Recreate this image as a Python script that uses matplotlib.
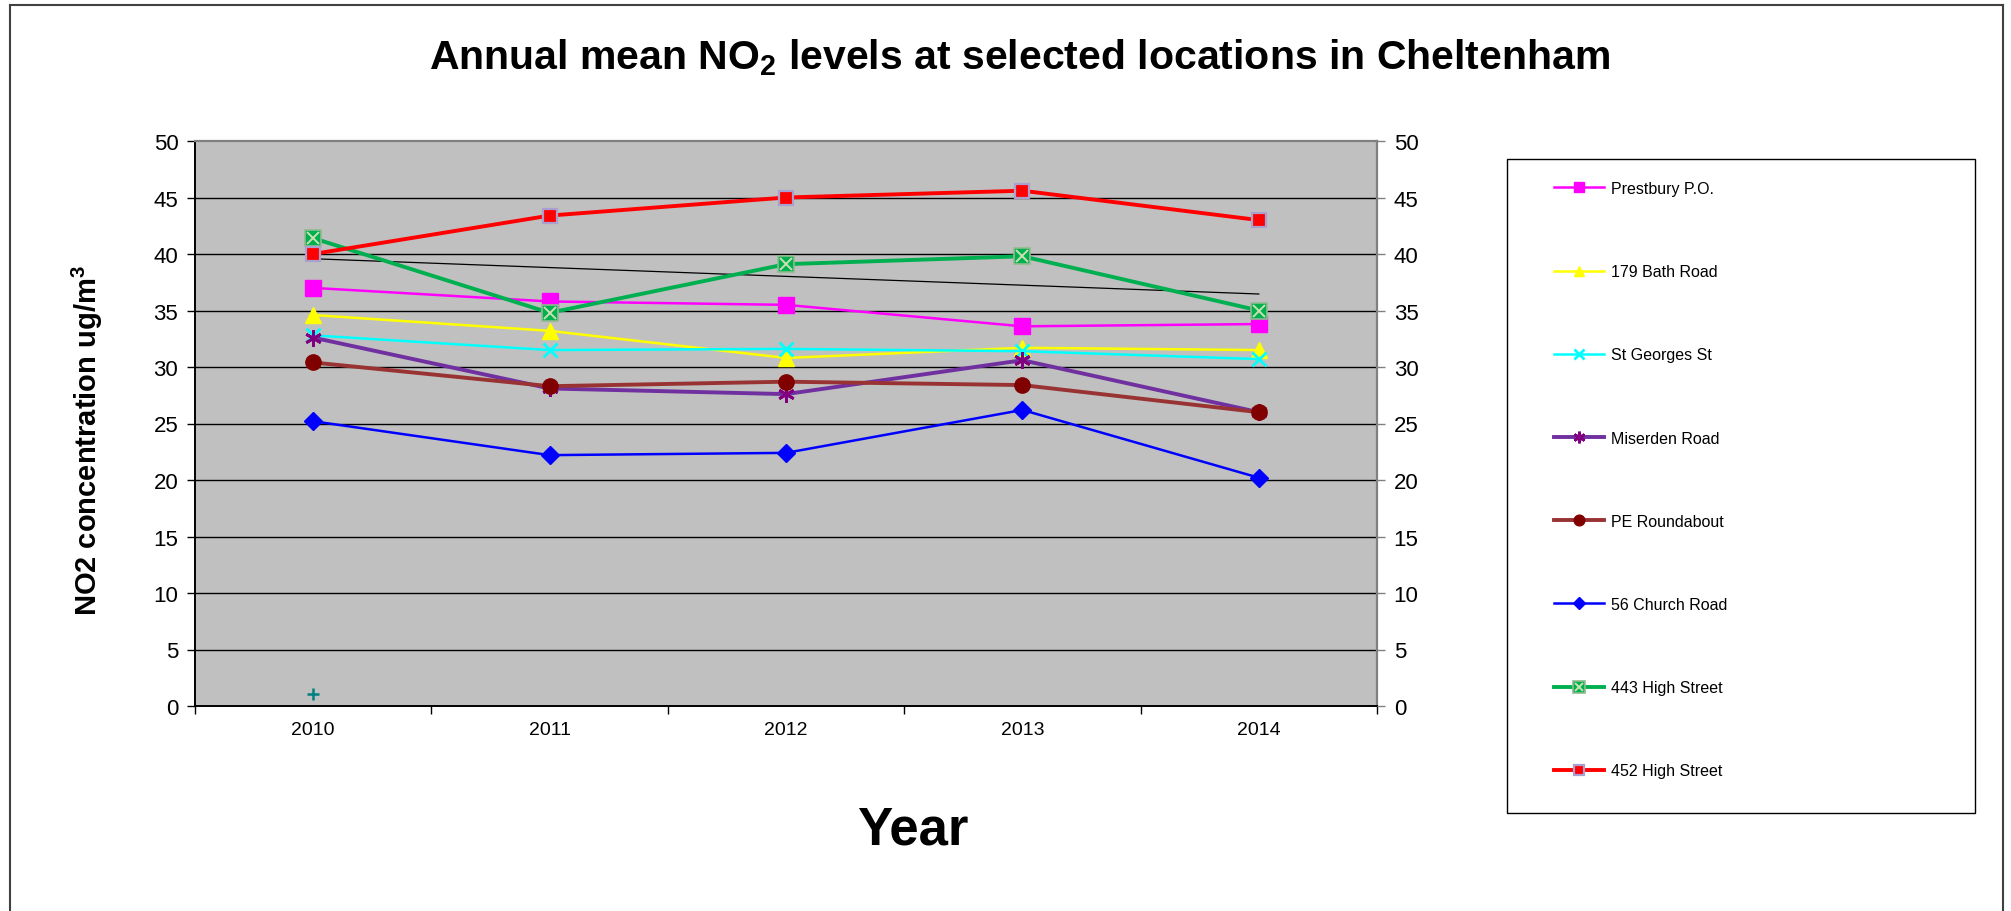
import numpy as np
import matplotlib
matplotlib.use('Agg')
import matplotlib.pyplot as plt
from matplotlib.lines import Line2D
from matplotlib.legend_handler import HandlerTuple
from matplotlib.patches import Rectangle

plt.rcParams['font.family'] = ['Liberation Sans', 'DejaVu Sans']
plt.rcParams['mathtext.default'] = 'regular'

# ---------------- data ----------------
years = ['2010', '2011', '2012', '2013', '2014']
prestbury = [37.0, 35.8, 35.5, 33.6, 33.8]
bath_road = [34.6, 33.2, 30.8, 31.7, 31.5]
st_georges = [32.8, 31.5, 31.6, 31.4, 30.7]
miserden = [32.6, 28.1, 27.6, 30.6, 26.0]
pe_roundabout = [30.4, 28.3, 28.7, 28.4, 26.0]
church_road = [25.2, 22.2, 22.4, 26.2, 20.2]
high_st_443 = [41.4, 34.8, 39.1, 39.8, 35.0]
high_st_452 = [40.0, 43.4, 45.0, 45.6, 43.0]
stray_years = ['2010']
stray_values = [1.1]
y_ticks = [0, 5, 10, 15, 20, 25, 30, 35, 40, 45, 50]

W, H = 2011, 912
fig = plt.figure(figsize=(W / 100, H / 100), dpi=100)
fig.patch.set_facecolor('white')

L, R, T, B = 195, 1377, 142, 707
ax = fig.add_axes([L / W, 1 - B / H, (R - L) / W, (B - T) / H])
ax.set_facecolor('#C0C0C0')
x = np.arange(len(years))

for yv in y_ticks[1:-1]:
    ax.axhline(yv, color='black', lw=1.0, zorder=1)

def plot_series(vals, label, color, lw, marker, ms, mfc, mec, mew=1.0, z=3):
    ln, = ax.plot(x, vals, color=color, lw=lw, marker=marker, ms=ms,
                  mfc=mfc, mec=mec, mew=mew, zorder=z, label=label)
    return ln

h1 = plot_series(prestbury, 'Prestbury P.O.', '#FF00FF', 1.8, 's', 11, '#FF00FF', '#FF00FF')
h2 = plot_series(bath_road, '179 Bath Road', '#FFFF00', 1.8, '^', 11, '#FFFF00', '#FFFF00')
h3 = plot_series(st_georges, 'St Georges St', '#00FFFF', 1.8, 'x', 10, '#00FFFF', '#00FFFF', 2.0)
h4 = plot_series(miserden, 'Miserden Road', '#7030A0', 2.8, (6, 2, 0), 12, '#800080', '#800080', 2.0)
h5 = plot_series(pe_roundabout, 'PE Roundabout', '#993333', 2.8, 'o', 11, '#800000', '#800000')
h6 = plot_series(church_road, '56 Church Road', '#0000FF', 1.8, 'D', 9, '#0000FF', '#0000FF')
h7a = plot_series(high_st_443, '443 High Street', '#00B050', 2.8, 's', 12, '#00B050', '#8FBC8F', 1.2, z=4)
h7b, = ax.plot(x, high_st_443, ls='none', marker='x', ms=9, mec='#C8E0B0', mew=1.4, zorder=4.1)
h8 = plot_series(high_st_452, '452 High Street', '#FF0000', 2.8, 's', 10, '#FF0000', '#A9A0D0', 1.6, z=5)

# linear trend of 443 High Street
coef = np.polyfit(x, high_st_443, 1)
ax.plot(x, np.polyval(coef, x), color='black', lw=0.9, zorder=3.5)

# stray single point
ax.plot([years.index(s) for s in stray_years], stray_values, ls='none', marker='+',
        ms=9, mew=1.8, color='#008080', zorder=3)

ax.set_xlim(-0.5, len(years) - 0.5)
ax.set_ylim(0, 50)
ax.set_xticks(x)
ax.set_xticklabels(years, fontsize=14)
ax.set_xticks(np.arange(-0.5, len(years)), minor=True)
ax.tick_params(axis='x', which='major', length=0, pad=11)
ax.tick_params(axis='x', which='minor', length=6, width=1.0, direction='out', color='black')
ax.set_yticks(y_ticks)
ax.tick_params(axis='y', labelsize=16, length=6, width=1.0, direction='out', pad=6)

ax.spines['left'].set_color('black')
ax.spines['bottom'].set_color('black')
ax.spines['left'].set_linewidth(1.4)
ax.spines['bottom'].set_linewidth(1.4)
ax.spines['top'].set_color('#808080')
ax.spines['right'].set_color('#808080')
ax.spines['top'].set_linewidth(1.6)
ax.spines['right'].set_linewidth(1.6)

ax2 = ax.twinx()
ax2.set_ylim(0, 50)
ax2.set_yticks(y_ticks)
ax2.tick_params(axis='y', labelsize=16, length=6, width=1.0, direction='out', pad=6, color='#808080')
for s in ax2.spines.values():
    s.set_visible(False)

# texts
fig.text(1020 / W, 1 - 58 / H, 'Annual mean NO$_2$ levels at selected locations in Cheltenham',
         ha='center', va='center', fontsize=29.5, fontweight='bold')
fig.text(87 / W, 1 - 440 / H, 'NO2 concentration ug/m$^3$', rotation=90,
         ha='center', va='center', fontsize=21, fontweight='bold')
fig.text(913 / W, 1 - 831 / H, 'Year', ha='center', va='center', fontsize=38, fontweight='bold')

# legend box
fig.patches.append(Rectangle((1507 / W, 1 - 814 / H), (1975 - 1507) / W, (814 - 160) / H,
                             transform=fig.transFigure, facecolor='white', edgecolor='black',
                             lw=1.0, zorder=1))
leg_handles = [h1, h2, h3, h4, h5, h6, (h7a, h7b), h8]
leg_labels = ['Prestbury P.O.', '179 Bath Road', 'St Georges St', 'Miserden Road',
              'PE Roundabout', '56 Church Road', '443 High Street', '452 High Street']
leg = fig.legend(leg_handles, leg_labels, loc='upper left',
                 bbox_to_anchor=(1554 / W, 1 - 182 / H), frameon=False,
                 fontsize=11.5, handlelength=3.1, handletextpad=0.45, labelspacing=4.27,
                 borderpad=0, borderaxespad=0, markerscale=0.7,
                 handler_map={tuple: HandlerTuple(ndivide=1)})
leg.set_zorder(5)

# outer border
for (xs, ys) in [((10, 10), (6, 912)), ((10, 2003), (6, 6)), ((2003, 2003), (6, 912))]:
    fig.add_artist(Line2D([xx / W for xx in xs], [1 - yy / H for yy in ys],
                          transform=fig.transFigure, color='#404040', lw=1.5))

fig.savefig('out.png', dpi=100)
